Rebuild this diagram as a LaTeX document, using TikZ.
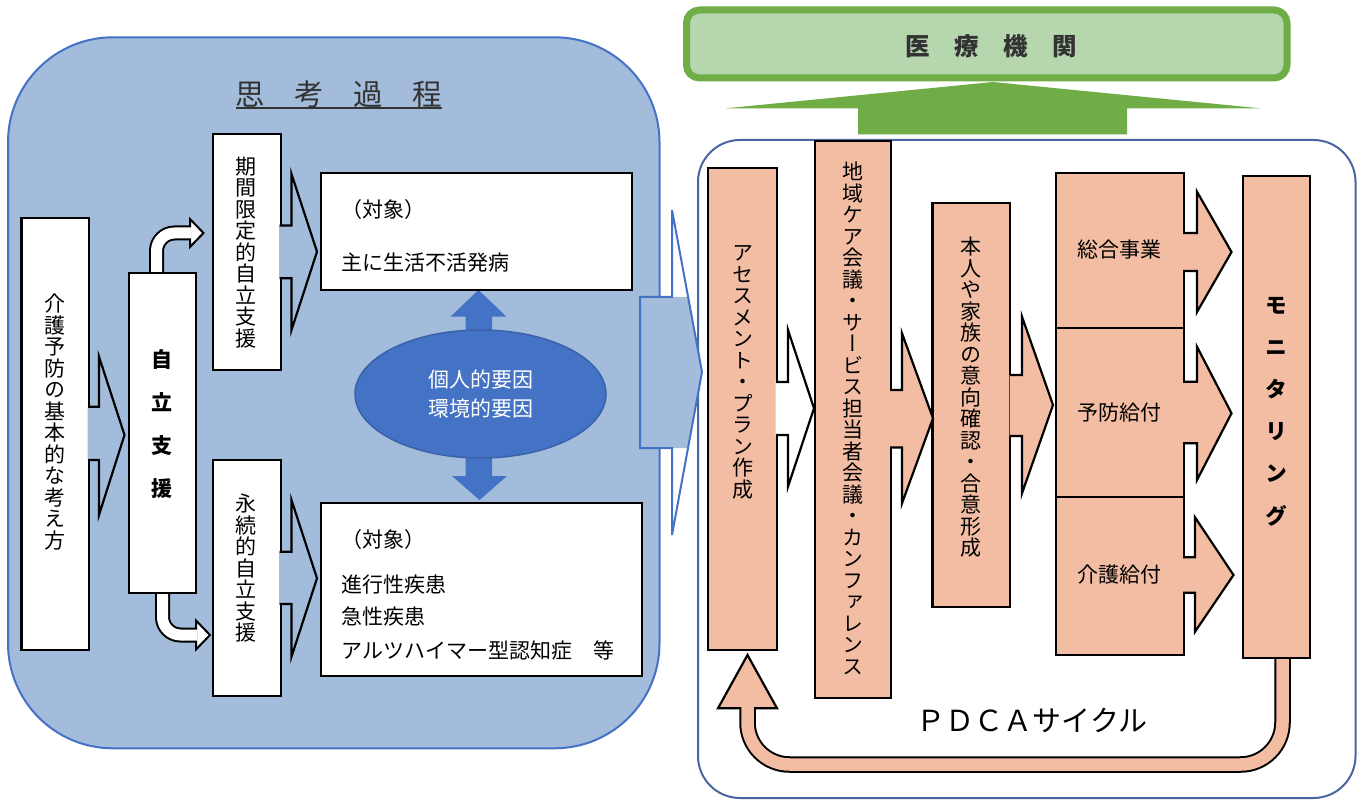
\documentclass[tikz,border=0pt]{standalone}
\usepackage{fontspec}
\setmainfont{Noto Sans CJK JP}
\newfontfamily\tatefont{Noto Sans CJK JP}[RawFeature=+vert]
\usetikzlibrary{shapes.geometric}
\usetikzlibrary{positioning}

\definecolor{panelblue}{HTML}{A4BCDC}
\definecolor{lineblue}{HTML}{4472C4}
\definecolor{frameblue}{HTML}{4A66A2}
\definecolor{ovalblue}{HTML}{4472C4}
\definecolor{ovaledge}{HTML}{3A62AA}
\definecolor{salmon}{HTML}{F2BDA3}
\definecolor{leafgreen}{HTML}{70AD47}
\definecolor{palegreen}{HTML}{B6D6AE}
\definecolor{inkgray}{HTML}{333333}

\pgfdeclarelayer{panels}
\pgfdeclarelayer{links}
\pgfsetlayers{panels,links,main}

% one character per line, for the upright columns
\makeatletter
\newcommand{\tate}[1]{%
  \def\tate@list{}%
  \@tfor\tate@ch:=#1\do{%
    \ifx\tate@list\@empty
      \edef\tate@list{\unexpanded\expandafter{\tate@ch}}%
    \else
      \edef\tate@list{\unexpanded\expandafter{\tate@list}\noexpand\\\unexpanded\expandafter{\tate@ch}}%
    \fi}%
  \tate@list}
\makeatother

% block arrow on the right side of a box
\newcommand{\boxarrow}[9]{%
  \fill[#1] (#2-1.5,#3) -- (#5,#3) -- (#5,#6) -- (#8,#9) -- (#5,#7) -- (#5,#4) -- (#2-1.5,#4) -- cycle;
  \draw[arrowline] (#2-1,#3) -- (#5,#3) -- (#5,#6) -- (#8,#9) -- (#5,#7) -- (#5,#4) -- (#2-1,#4);
}

\tikzset{
  wbox/.style={draw=black, fill=white, line width=2.2pt, inner sep=0, outer sep=0},
  sbox/.style={wbox, fill=salmon},
  arrowline/.style={draw=black, line width=2.2pt},
  tatetext/.style={font=\tatefont\fontsize{21}{21.5}\selectfont, align=center, inner sep=0},
  yokotext/.style={font=\fontsize{21}{26}\selectfont, inner sep=0, anchor=west},
  leftpanel/.style={draw=lineblue, fill=panelblue, line width=2pt, rounded corners=105, inner sep=0},
  rightpanel/.style={draw=frameblue, fill=white, line width=2pt, rounded corners=42, inner sep=0},
  greenbox/.style={draw=leafgreen, fill=palegreen, line width=7pt, rounded corners=13, inner sep=0},
}

\begin{document}
\begin{tikzpicture}[x=1pt, y=-1pt]
    \useasboundingbox (0,0) rectangle (1363,802);

    \begin{pgfonlayer}{panels}
        \fill[white] (0,0) rectangle (1363,802);
        \node (shiko) [leftpanel, minimum width=651.5, minimum height=711] at (333.75,392.8) {};
        \node (pdca) [rightpanel, minimum width=657.5, minimum height=658] at (1026.75,469) {};
    \end{pgfonlayer}

    % title of the left panel
    \node (title) [font=\fontsize{29.5}{29.5}\selectfont, text=inkgray, inner sep=0] at (339,94.5) {思　考　過　程};
    \draw[inkgray, line width=2pt] (title.south west) -- (title.south east);

    % left panel boxes
    \node (kaigo) [wbox, minimum width=67.6, minimum height=432.3] at (55.2,433.9) {};
    \node (jiritsu) [wbox, minimum width=66.8, minimum height=319.4] at (162.4,433) {};
    \node (kikan) [wbox, minimum width=68, minimum height=235.7] at (246.7,252.2) {};
    \node (eizoku) [wbox, minimum width=68, minimum height=236] at (246.7,578) {};
    \node (taisho1) [wbox, minimum width=311.2, minimum height=117.3] at (476.4,231.4) {};
    \node (taisho2) [wbox, minimum width=321.2, minimum height=173.3] at (481.4,589.4) {};

    \node (kaigo-t) [tatetext] at (54.8,422) {\tate{介護予防の基本的な考え方}};
    \node (jiritsu-t) [tatetext, font=\tatefont\bfseries\fontsize{21}{43}\selectfont] at (161.5,424.5) {\tate{自立支援}};
    \node (kikan-t) [tatetext] at (246,252.5) {\tate{期間限定的自立支援}};
    \node (eizoku-t) [tatetext] at (246,568.5) {\tate{永続的自立支援}};

    \node (t1a) [yokotext] at (341.7,210) {（対象）};
    \node (t1b) [yokotext] at (341.7,262.3) {主に生活不活発病};
    \node (t2a) [yokotext] at (341.7,540) {（対象）};
    \node (t2b) [yokotext] at (341.7,585) {進行性疾患};
    \node (t2c) [yokotext] at (341.7,616.7) {急性疾患};
    \node (t2d) [yokotext] at (341.7,650) {アルツハイマー型認知症　等};

    \node (yoin) [ellipse, fill=ovalblue, draw=ovaledge, line width=1.5pt, minimum width=251, minimum height=128,
        text=white, align=center, font=\fontsize{21}{28.3}\selectfont, inner sep=0] at (480.5,394) {個人的要因\\環境的要因};

    \boxarrow{panelblue}{89}{406.7}{460}{99}{356.7}{515}{124.5}{435}
    \boxarrow{panelblue}{280.7}{225.5}{278.3}{291.5}{174}{330}{317}{251.7}
    \boxarrow{panelblue}{280.7}{551.7}{604}{291.5}{500}{656.7}{317}{578.3}

    % right panel boxes
    \node (assess) [sbox, minimum width=68.7, minimum height=482.3] at (742.7,408.9) {};
    \node (chiiki) [sbox, minimum width=76, minimum height=557.3] at (853,419.7) {};
    \node (honnin) [sbox, minimum width=77.9, minimum height=403.4] at (971.4,405) {};
    \node (sogo) [sbox, minimum width=127.8, minimum height=155] at (1120.1,250.8) {};
    \node (yobo) [sbox, minimum width=127.8, minimum height=168.4] at (1120.1,412.5) {};
    \node (kyufu) [sbox, minimum width=127.8, minimum height=158.3] at (1120.1,575.9) {};
    \node (monitor) [sbox, minimum width=67, minimum height=482.6] at (1276.5,417) {};

    \node (assess-t) [tatetext] at (742.5,372.5) {\tate{アセスメント・プラン作成}};
    \node (chiiki-t) [tatetext] at (853,418.5) {\tate{地域ケア会議・サービス担当者会議・カンファレンス}};
    \node (honnin-t) [tatetext] at (971,397.5) {\tate{本人や家族の意向確認・合意形成}};
    \node (monitor-t) [tatetext, font=\tatefont\bfseries\fontsize{22}{42.2}\selectfont] at (1276.3,411.5) {\tate{モニタリング}};

    \node (sogo-t) [font=\fontsize{21}{21}\selectfont, inner sep=0] at (1119.7,250) {総合事業};
    \node (yobo-t) [font=\fontsize{21}{21}\selectfont, inner sep=0] at (1119.7,413) {予防給付};
    \node (kyufu-t) [font=\fontsize{21}{21}\selectfont, inner sep=0] at (1119.7,575) {介護給付};

    \boxarrow{white}{777}{382}{435}{788}{330}{486.7}{814}{408.3}
    \boxarrow{salmon}{891}{390}{447.5}{902}{333.3}{503.3}{933}{418.3}
    \boxarrow{salmon}{1011}{375}{436}{1022}{316.7}{493.3}{1053}{405}
    \boxarrow{salmon}{1184}{233}{271}{1197}{191.7}{312}{1231.5}{252}
    \boxarrow{salmon}{1184}{381.7}{443.3}{1197}{346.7}{480}{1231.5}{413.3}
    \boxarrow{salmon}{1184}{557.3}{592.7}{1195}{517.3}{631.7}{1233.5}{575}

    \node (cycle-t) [font=\fontsize{29}{29}\selectfont, inner sep=0] at (1032,720) {ＰＤＣＡサイクル};

    % medical institutions on top
    \node (iryo) [greenbox, minimum width=600.5, minimum height=68] at (986.75,44) {};
    \node (iryo-t) [font=\bfseries\fontsize{24.5}{24.5}\selectfont, text=inkgray, inner sep=0] at (991.5,45.8) {医　療　機　関};

    \begin{pgfonlayer}{links}
        % bent arrows out of jiritsu
        \draw[line width=15pt, rounded corners=18] (156.5,280) -- (156.5,233) -- (190.5,233);
        \draw[fill=white, line width=2pt] (190,219) -- (203.5,233) -- (190,247) -- cycle;
        \draw[white, line width=11pt, rounded corners=18] (156.5,281) -- (156.5,233) -- (191.5,233);

        \draw[line width=15pt, rounded corners=18] (162.5,586) -- (162.5,635) -- (196,635);
        \draw[fill=white, line width=2pt] (196,620.5) -- (210,635) -- (196,649.5) -- cycle;
        \draw[white, line width=11pt, rounded corners=18] (162.5,585) -- (162.5,635) -- (197,635);

        % up and down between the two target boxes
        \fill[ovalblue] (478.5,290) -- (506.5,316.7) -- (492,316.7) -- (492,476) -- (507,476) -- (479.5,500)
            -- (452,476) -- (465.5,476) -- (465.5,316.7) -- (450.5,316.7) -- cycle;

        % big arrow from the left panel into the right one
        \fill[panelblue] (640,297) -- (688.1,297) -- (702,372) -- (688,448) -- (640,448) -- cycle;
        \draw[lineblue, line width=2pt] (640,297) -- (672,297) -- (672,210) -- (702,372) -- (672,535)
            -- (672,448) -- (640,448) -- cycle;

        % green arrow up to iryo
        \fill[leafgreen] (726,108.3) -- (993,82) -- (1260,108.3) -- (1127,108.3) -- (1127,134.3)
            -- (858,134.3) -- (858,108.3) -- cycle;

        % PDCA return arrow
        \draw[line width=16.5pt, rounded corners=42] (1282.5,650) -- (1282.5,764.5) -- (747.5,764.5) -- (747.5,708.3);
        \draw[fill=salmon, line width=2.2pt] (747.5,655) -- (777,708.3) -- (718,708.3) -- cycle;
        \draw[salmon, line width=12.5pt, rounded corners=42] (1282.5,650) -- (1282.5,764.5) -- (747.5,764.5) -- (747.5,706.5);
    \end{pgfonlayer}
\end{tikzpicture}
\end{document}
